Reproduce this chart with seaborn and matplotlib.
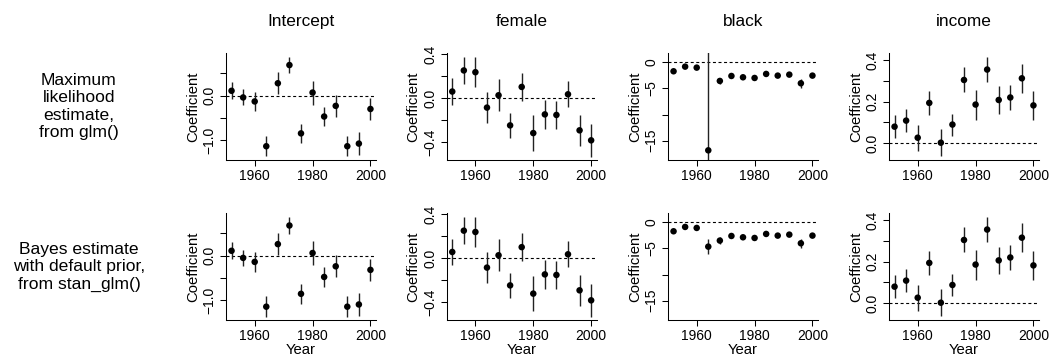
import numpy as np
import pandas as pd
import matplotlib
matplotlib.use("Agg")
import matplotlib.pyplot as plt
import seaborn as sns

# election years
years = [1952, 1956, 1960, 1964, 1968, 1972, 1976, 1980, 1984, 1988, 1992, 1996, 2000]

# maximum likelihood, glm()
ml_intercept = [0.11, -0.04, -0.13, -1.14, 0.28, 0.69, -0.85, 0.07, -0.47, -0.23, -1.14, -1.08, -0.30]
ml_intercept_se = [0.19, 0.18, 0.22, 0.23, 0.25, 0.19, 0.22, 0.27, 0.22, 0.25, 0.23, 0.25, 0.25]
ml_female = [0.058, 0.25, 0.234, -0.088, 0.024, -0.25, 0.10, -0.32, -0.15, -0.155, 0.033, -0.295, -0.386]
ml_female_se = [0.12, 0.12, 0.135, 0.14, 0.145, 0.115, 0.125, 0.16, 0.13, 0.13, 0.12, 0.14, 0.15]
ml_black = [-1.72, -0.83, -1.02, -16.85, -3.57, -2.62, -2.87, -3.0, -2.23, -2.55, -2.36, -4.02, -2.55]
ml_black_se = [0.35, 0.3, 0.3, 1420, 0.6, 0.3, 0.3, 0.35, 0.3, 0.3, 0.3, 0.85, 0.3]
ml_income = [0.08, 0.109, 0.027, 0.194, 0.003, 0.09, 0.304, 0.186, 0.354, 0.208, 0.22, 0.312, 0.182]
ml_income_se = [0.055, 0.055, 0.062, 0.059, 0.066, 0.053, 0.06, 0.072, 0.062, 0.066, 0.059, 0.07, 0.07]

# bayes, stan_glm()
st_intercept = [0.11, -0.05, -0.14, -1.15, 0.26, 0.68, -0.86, 0.06, -0.48, -0.24, -1.15, -1.10, -0.32]
st_intercept_se = [0.19, 0.18, 0.22, 0.23, 0.25, 0.19, 0.22, 0.27, 0.22, 0.25, 0.23, 0.25, 0.25]
st_female = [0.054, 0.248, 0.236, -0.088, 0.024, -0.25, 0.098, -0.325, -0.15, -0.155, 0.033, -0.295, -0.386]
st_female_se = [0.12, 0.12, 0.135, 0.14, 0.145, 0.115, 0.125, 0.16, 0.13, 0.13, 0.12, 0.14, 0.15]
st_black = [-1.72, -0.89, -1.08, -4.66, -3.5, -2.62, -2.87, -3.0, -2.23, -2.55, -2.36, -4.02, -2.55]
st_black_se = [0.35, 0.3, 0.3, 1.4, 0.6, 0.3, 0.3, 0.35, 0.3, 0.3, 0.3, 0.85, 0.3]
st_income = [0.08, 0.109, 0.027, 0.194, 0.003, 0.088, 0.304, 0.186, 0.354, 0.206, 0.22, 0.315, 0.182]
st_income_se = [0.055, 0.055, 0.062, 0.059, 0.066, 0.053, 0.06, 0.072, 0.062, 0.066, 0.059, 0.07, 0.07]

coefs = ["Intercept", "female", "black", "income"]
row_labels = ["Maximum\nlikelihood\nestimate,\nfrom glm()",
              "Bayes estimate\nwith default prior,\nfrom stan_glm()"]

est = [[ml_intercept, ml_female, ml_black, ml_income],
       [st_intercept, st_female, st_black, st_income]]
ses = [[ml_intercept_se, ml_female_se, ml_black_se, ml_income_se],
       [st_intercept_se, st_female_se, st_black_se, st_income_se]]

ylims = [(-1.45, 0.955), (-0.565, 0.406), (-18.7, 1.72), (-0.08, 0.432)]
yticks = [[-1.0, -0.5, 0.0, 0.5], [-0.4, -0.2, 0.0, 0.2, 0.4],
          [-15, -10, -5, 0], [0.0, 0.1, 0.2, 0.3, 0.4]]
ylabs = [["\u22121.0", "", "0.0", ""], ["\u22120.4", "", "0.0", "", "0.4"],
         ["\u221215", "", "\u22125", "0"], ["0.0", "", "0.2", "", "0.4"]]

sns.set_style("ticks")
plt.rcParams["font.family"] = ["Liberation Sans", "DejaVu Sans"]
plt.rcParams["text.color"] = "black"
plt.rcParams["axes.labelcolor"] = "black"
plt.rcParams["xtick.color"] = "black"
plt.rcParams["ytick.color"] = "black"

fig = plt.figure(figsize=(10.51, 3.6), dpi=100)

lefts = [226, 446.7, 668, 889]
W, H = 1051, 360
tops = [53.3, 213.3]
pw, ph = 150, 106.7

for r in range(2):
    for c in range(4):
        ax = fig.add_axes([lefts[c] / W, 1 - (tops[r] + ph) / H, pw / W, ph / H])
        df = pd.DataFrame({"year": years, "est": est[r][c], "se": ses[r][c]})
        df["lo"] = df["est"] - df["se"]
        df["hi"] = df["est"] + df["se"]
        ax.axhline(0, color="black", lw=0.8, ls=(0, (2.7, 2.3)), zorder=1)
        ax.vlines(df["year"], df["lo"], df["hi"], color="#222222", lw=1.0, zorder=2)
        sns.scatterplot(data=df, x="year", y="est", ax=ax, color="black",
                        s=22, edgecolor="none", zorder=3, legend=False)
        ax.set_xlim(1950.08, 2001.92)
        ax.set_ylim(*ylims[c])
        ax.set_xticks([1960, 1980, 2000])
        ax.set_xticklabels(["1960", "1980", "2000"], fontsize=10)
        ax.set_yticks(yticks[c])
        ax.set_yticklabels(ylabs[c], fontsize=10, rotation=90, va="center")
        ax.tick_params(length=4.3, width=0.75, color="black", pad=2.5)
        for s in ["left", "bottom"]:
            ax.spines[s].set_linewidth(0.75)
            ax.spines[s].set_color("black")
        sns.despine(ax=ax)
        ax.set_ylabel("Coefficient", fontsize=10.7, labelpad=2)
        if r == 1:
            ax.set_xlabel("Year", fontsize=10.7, labelpad=0)
        else:
            ax.set_xlabel("")
            ax.set_title(coefs[c], fontsize=12.4, pad=20)

for r in range(2):
    fig.text(79 / W, 1 - (tops[r] + ph / 2) / H, row_labels[r], ha="center",
             va="center", fontsize=12.6, linespacing=1.2)

fig.savefig("out.png", dpi=100)
